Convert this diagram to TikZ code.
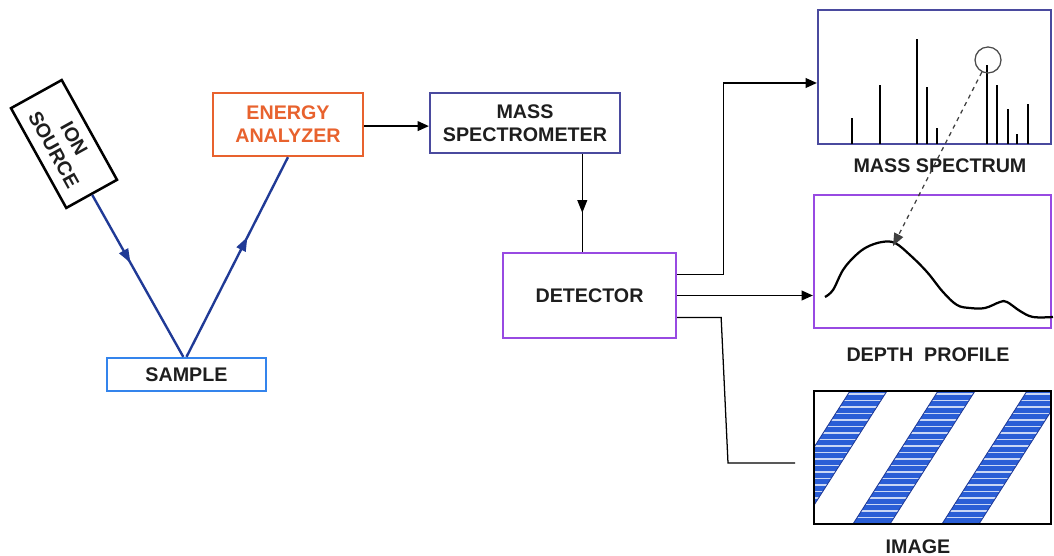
\documentclass[tikz,border=0pt]{standalone}
\usepackage{fontspec}
\setmainfont{Liberation Sans}
\definecolor{anaorange}{RGB}{232,98,46}
\definecolor{specblue}{RGB}{74,74,158}
\definecolor{detpurple}{RGB}{152,74,226}
\definecolor{smpblue}{RGB}{52,132,236}
\definecolor{beamblue}{RGB}{32,58,150}
\definecolor{stripeblue}{RGB}{42,94,214}
\definecolor{labelgray}{RGB}{30,30,30}
\usetikzlibrary{arrows.meta,positioning,calc,decorations.markings}

\begin{document}
\begin{tikzpicture}[x=0.025cm,y=-0.025cm,
  font=\fontsize{14}{16.5}\selectfont\bfseries,
  box/.style={draw,line width=1.6pt,inner sep=0pt,align=center,text=labelgray},
  panel/.style={draw,line width=1.6pt,inner sep=0pt},
  lbl/.style={text=labelgray},
  arr/.style={-{Triangle[length=8pt,width=7pt]},line width=0.9pt},
  midarr/.style={line width=0.9pt,postaction={decorate},
    decoration={markings,mark=at position #1 with {\arrow{Triangle[length=9pt,width=7pt]}}}},
  beam/.style={line width=1.7pt,beamblue,postaction={decorate},
    decoration={markings,mark=at position #1 with {\arrow{Triangle[length=10pt,width=7pt]}}}},
  bar/.style={line width=1.6pt},
  stripe/.style={fill=stripeblue,draw=beamblue,line width=0.6pt}
]
  \useasboundingbox (0,0) rectangle (1054,556);

  % source side
  \node[box,draw=black,line width=1.8pt,rotate=-61,minimum width=2.85cm,
    minimum height=1.45cm] (ion) at (64,144) {ION\\SOURCE};
  \node[box,draw=smpblue,minimum width=3.975cm,minimum height=0.825cm] (sample) at (186.5,374.5) {SAMPLE};
  \node[box,draw=anaorange,text=anaorange,minimum width=3.75cm,minimum height=1.575cm] (ana) at (288,124.5) {ENERGY\\ANALYZER};
  \node[box,draw=specblue,minimum width=4.75cm,minimum height=1.5cm] (spec) at (525,123) {MASS\\SPECTROMETER};
  \node[box,draw=detpurple,minimum width=4.325cm,minimum height=2.125cm] (det) at (589.5,295.5) {DETECTOR};

  \draw[beam=0.42] (ion.east) -- ([xshift=-0.08cm]sample.north);
  \draw[beam=0.6] (sample.north) -- (ana.south);
  \draw[arr] ([yshift=-0.04cm]ana.east) -- ([yshift=-0.04cm]ana.east -| spec.west);
  \draw[midarr=0.6] ([xshift=-0.18cm]det.north |- spec.south) -- ([xshift=-0.18cm]det.north);

  % image box stripes
  \begin{scope}
    \clip (814,391) rectangle (1051,524);
    \foreach \a in {850,938,1027} {
      \begin{scope}
        \clip (\a,391) -- (\a+37,391) -- (\a-48,524) -- (\a-85,524) -- cycle;
        \fill[stripeblue] (\a-90,391) rectangle (\a+40,524);
        \foreach \y in {394,400.5,...,524}
          \draw[white!75!stripeblue,line width=1.1pt] (\a-90,\y) -- (\a+40,\y);
      \end{scope}
      \draw[beamblue,line width=0.6pt] (\a,391) -- (\a-85,524) (\a+37,391) -- (\a-48,524);
    }
  \end{scope}

  % output panels
  \node[panel,draw=specblue,minimum width=5.825cm,minimum height=3.35cm] (msbox) at (934.5,77) {};
  \node[panel,draw=detpurple,minimum width=5.925cm,minimum height=3.325cm] (depth) at (932.5,261.5) {};
  \node[panel,draw=black,line width=2pt,minimum width=5.925cm,minimum height=3.325cm] (imgbox) at (932.5,457.5) {};
  \node[lbl] (mslbl) at (940,166) {MASS SPECTRUM};
  \node[lbl] (depthlbl) at (928,355) {DEPTH\ \ PROFILE};
  \node[lbl] (imglbl) at (918,547) {IMAGE};

  % spectrum bars
  \foreach \x/\h in {852/118,880/85,917/39,927/87,937/128,987/65,997/85,1008/109,1017/134,1028/104}
    \draw[bar] (\x,144) -- (\x,\h);
  \node[draw=black!70,line width=0.9pt,circle,minimum size=0.65cm,inner sep=0pt] (peakmark) at (988,60) {};

  % depth curve
  \draw[line width=1.6pt,line join=round] plot[smooth,tension=0.6] coordinates {(825,297) (833,290) (843,270)
    (855,256) (867,247) (882,242) (895,243) (910,255) (927,272) (943,292) (957,305) (970,308)
    (985,308) (1000,302) (1007,302) (1020,311) (1033,317) (1053,317)};
  \coordinate (peak) at (893,246);
  \draw[-{Triangle[length=9pt,width=7pt]},dashed,black!75,line width=0.9pt] (peakmark) -- (peak);

  % detector outputs
  \coordinate (bend) at (728,463);
  \coordinate (imgin) at (795,463);
  \draw[arr] ([yshift=0.52cm]det.east) -- ++(46,0) |- (msbox.west |- 0,83);
  \draw[arr] (det.east) -- (det.east -| depth.west);
  \draw[line width=0.9pt] ([yshift=-0.55cm]det.east) -- ++(44,0) -- (bend) -- (imgin);
\end{tikzpicture}
\end{document}
